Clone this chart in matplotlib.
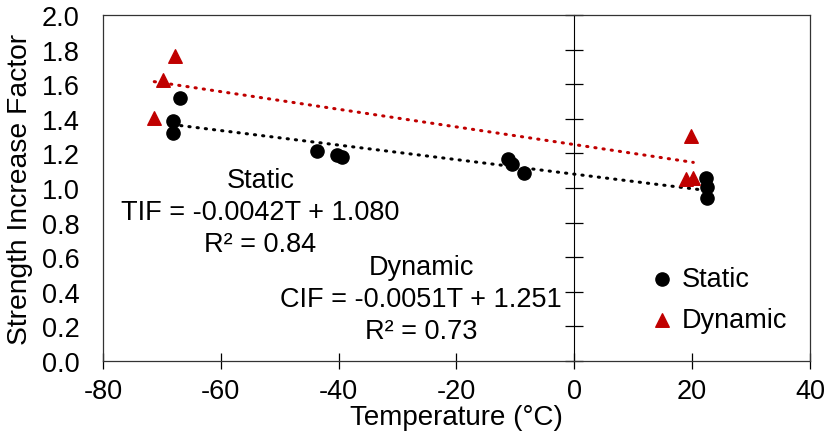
import numpy as np
import matplotlib
matplotlib.use("Agg")
import matplotlib.pyplot as plt

plt.rcParams['font.family'] = ['Liberation Sans', 'DejaVu Sans']
plt.rcParams['axes.unicode_minus'] = False

# Static tests (black circles)
static_temp = [-68.2, -68.2, -67.0, -43.7, -40.2, -39.4, -11.2, -10.5, -8.6, 22.4, 22.5, 22.5]
static_sif = [1.389, 1.318, 1.518, 1.216, 1.190, 1.177, 1.168, 1.137, 1.087, 1.058, 1.004, 0.940]

# Dynamic tests (red triangles)
dynamic_temp = [-67.8, -69.8, -71.3, 19.8, 18.9, 20.2]
dynamic_sif = [1.765, 1.626, 1.405, 1.302, 1.052, 1.060]

# linear trend lines as printed on the chart
static_slope, static_icpt, static_r2 = -0.0042, 1.080, 0.84
dynamic_slope, dynamic_icpt, dynamic_r2 = -0.0051, 1.251, 0.73

red = '#C00000'
fs = 19.5

fig = plt.figure(figsize=(8.28, 4.39), dpi=100)
ax = fig.add_axes([0.1244, 0.1754, 0.8538, 0.7882])

# trend lines
xs = np.linspace(min(dynamic_temp), max(dynamic_temp), 50)
ax.plot(xs, dynamic_slope * xs + dynamic_icpt, color=red, lw=2.2,
        linestyle=(0, (0.4, 2.3)), dash_capstyle='round', zorder=2)
xs = np.linspace(min(static_temp), max(static_temp), 50)
ax.plot(xs, static_slope * xs + static_icpt, color='black', lw=2.2,
        linestyle=(0, (0.4, 2.3)), dash_capstyle='round', zorder=2)

ax.scatter(static_temp, static_sif, s=90, color='black', marker='o', label='Static', zorder=3)
ax.scatter(dynamic_temp, dynamic_sif, s=95, color=red, marker='^', label='Dynamic', zorder=3)

ax.set_xlim(-80, 40)
ax.set_ylim(0, 2.0)
ax.set_xticks(np.arange(-80, 41, 20))
ax.set_yticks(np.arange(0, 2.01, 0.2))
ax.set_yticklabels([f'{v:.1f}' for v in np.arange(0, 2.01, 0.2)])
ax.tick_params(axis='y', length=0, pad=17, labelsize=fs)
ax.tick_params(axis='x', direction='inout', length=11, width=0.9, pad=7, labelsize=fs)
for sp in ax.spines.values():
    sp.set_linewidth(0.9)
    sp.set_color('#333333')

# vertical axis crossing at T = 0, ticks across it, labels kept on the left
sec = ax.secondary_yaxis((0 - (-80)) / 120)
sec.set_yticks(np.arange(0, 2.01, 0.2))
sec.tick_params(direction='inout', length=13, width=0.9, labelleft=False, labelright=False)
sec.spines['left'].set_linewidth(0.9)
sec.spines['left'].set_color('black')

ax.set_xlabel('Temperature (°C)', fontsize=fs + 0.5, labelpad=0)
ax.set_ylabel('Strength Increase Factor', fontsize=fs + 0.8, labelpad=6)

ax.text(-53.3, 0.86, f'Static\nTIF = {static_slope:.4f}T + {static_icpt:.3f}\nR² = {static_r2:.2f}',
        ha='center', va='center', fontsize=fs, linespacing=1.29)
ax.text(-26.0, 0.36, f'Dynamic\nCIF = {dynamic_slope:.4f}T + {dynamic_icpt:.3f}\nR² = {dynamic_r2:.2f}',
        ha='center', va='center', fontsize=fs, linespacing=1.29)

ax.legend(loc='center left', bbox_to_anchor=(0.772, 0.178), frameon=False, fontsize=fs,
          borderpad=0, borderaxespad=0, handlelength=1.0, handletextpad=0.2,
          labelspacing=0.55, scatterpoints=1)

fig.savefig('out.png', dpi=100)
